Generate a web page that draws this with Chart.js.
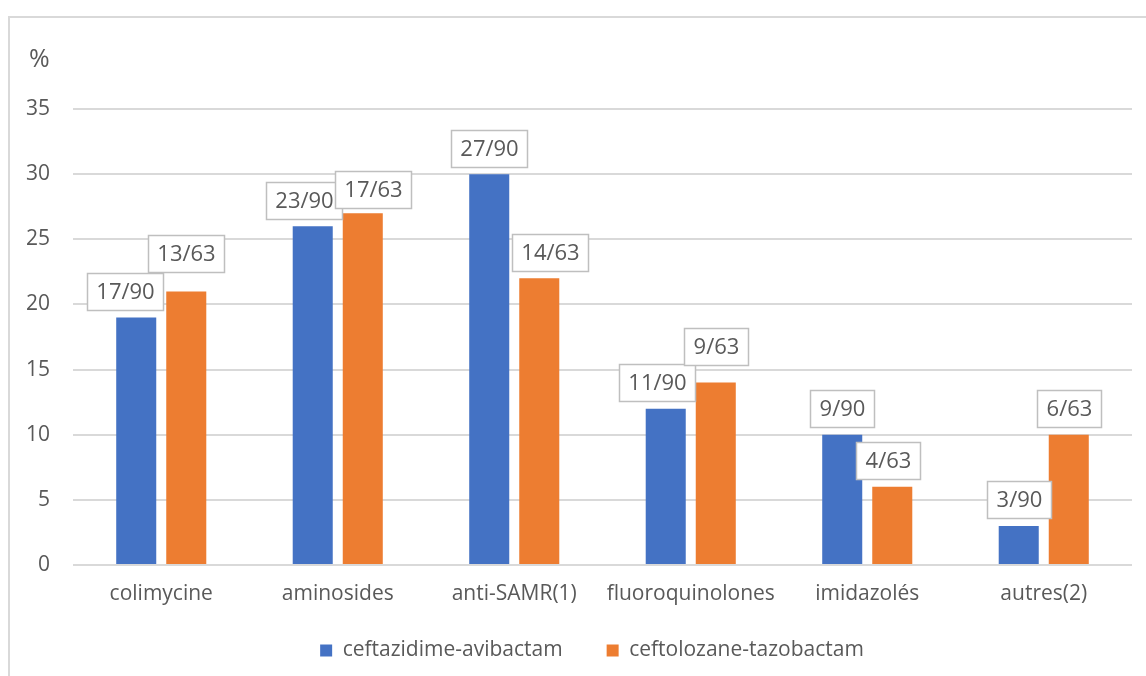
<!DOCTYPE html>
<html lang="fr">
<head>
<meta charset="utf-8">
<title>Résistances associées</title>
<script src="https://cdn.jsdelivr.net/npm/chart.js@4/dist/chart.umd.min.js"></script>
<style>
  html, body { margin: 0; padding: 0; background: #ffffff; overflow: hidden; }
  #wrap { position: relative; width: 1146px; height: 676px; overflow: hidden; }
  #frame { position: absolute; left: 8px; top: 16px; width: 1200px; height: 720px;
           border: 2px solid #d9d9d9; box-sizing: border-box; }
  canvas { position: absolute; left: 0; top: 0; }
</style>
</head>
<body>
<div id="wrap">
  <div id="frame"></div>
  <canvas id="chart" width="1146" height="676"></canvas>
</div>
<script>
// Classes d'antibiotiques
const categories = ['colimycine', 'aminosides', 'anti-SAMR(1)', 'fluoroquinolones', 'imidazolés', 'autres(2)'];

// Pourcentages par traitement
const ceftazidimeAvibactam = [19, 26, 30, 12, 10, 3];
const ceftolozaneTazobactam = [21, 27, 22, 14, 6, 10];

// Effectifs affichés au-dessus des barres
const ceftazidimeCounts = ['17/90', '23/90', '27/90', '11/90', '9/90', '3/90'];
const ceftolozaneCounts = ['13/63', '17/63', '14/63', '9/63', '4/63', '6/63'];

// Graduations de l'axe des ordonnées
const yTicks = [0, 5, 10, 15, 20, 25, 30, 35];

const FONT = "'Open Sans', 'DejaVu Sans', sans-serif";
const TEXT = '#595959';

// Boîtes d'étiquettes encadrées au-dessus des barres
const boxedLabels = {
  id: 'boxedLabels',
  afterDatasetsDraw(chart, args, opts) {
    const ctx = chart.ctx;
    ctx.save();
    ctx.font = opts.fontSize + 'px ' + FONT;
    ctx.textAlign = 'center';
    ctx.textBaseline = 'middle';
    chart.data.datasets.forEach((ds, di) => {
      const meta = chart.getDatasetMeta(di);
      meta.data.forEach((bar, i) => {
        const text = ds.counts[i];
        const nudge = (opts.nudges[di] && opts.nudges[di][i]) || [0, 0];
        const w = Math.round(ctx.measureText(text).width + opts.padX * 2);
        const h = opts.boxH;
        const cx = bar.x + nudge[0];
        const bottom = bar.y - opts.gap + nudge[1];
        const x0 = Math.round(cx - w / 2) + 0.5;
        const y0 = Math.round(bottom - h) + 0.5;
        ctx.fillStyle = '#ffffff';
        ctx.fillRect(x0, y0, w, h);
        ctx.strokeStyle = '#bfbfbf';
        ctx.lineWidth = 1.5;
        ctx.strokeRect(x0, y0, w, h);
        ctx.fillStyle = TEXT;
        ctx.fillText(text, x0 + w / 2, y0 + h / 2 + 1);
      });
    });
    ctx.restore();
  }
};

// Unité de l'axe vertical
const unitLabel = {
  id: 'unitLabel',
  afterDraw(chart) {
    const ctx = chart.ctx;
    ctx.save();
    ctx.font = '25px ' + FONT;
    ctx.fillStyle = TEXT;
    ctx.textAlign = 'left';
    ctx.textBaseline = 'middle';
    ctx.fillText('%', 29, 60);
    ctx.restore();
  }
};

// Légende : large espacement entre les entrées, bande réservée compacte
const legendBand = {
  id: 'legendBand',
  beforeLayout(chart, args, opts) {
    const lg = chart.legend;
    if (lg && !lg._bandFixed) {
      const fit = lg.fit.bind(lg);
      lg.fit = function () { fit(); this.height = opts.height; };
      lg._bandFixed = true;
    }
  },
  afterLayout(chart, args, opts) {
    const lg = chart.legend;
    if (lg) {
      lg.top += opts.shiftY;
      lg.left += opts.shiftX;
      lg.right += opts.shiftX;
    }
  }
};

new Chart(document.getElementById('chart'), {
  type: 'bar',
  data: {
    labels: categories,
    datasets: [
      { label: 'ceftazidime-avibactam', data: ceftazidimeAvibactam, counts: ceftazidimeCounts,
        backgroundColor: '#4472C4', borderWidth: 0 },
      { label: 'ceftolozane-tazobactam', data: ceftolozaneTazobactam, counts: ceftolozaneCounts,
        backgroundColor: '#ED7D31', borderWidth: 0 }
    ]
  },
  options: {
    responsive: false,
    animation: false,
    devicePixelRatio: 1,
    layout: { padding: { top: 109, right: 14, bottom: 0, left: 0 } },
    datasets: { bar: { categoryPercentage: 0.567, barPercentage: 0.8 } },
    scales: {
      x: {
        grid: { display: false, drawTicks: false },
        border: { display: false },
        ticks: { color: TEXT, font: { family: FONT, size: 21 }, padding: 16, maxRotation: 0 },
        afterFit(scale) { scale.height = 62; }
      },
      y: {
        min: 0, max: 35,
        afterBuildTicks(scale) { scale.ticks = yTicks.map(v => ({ value: v })); },
        grid: { color: '#d9d9d9', lineWidth: 2, drawTicks: false },
        border: { display: false },
        ticks: { color: TEXT, font: { family: FONT, size: 21 }, padding: 23 },
        afterFit(scale) { scale.width = 73; }
      }
    },
    plugins: {
      legend: {
        position: 'bottom',
        labels: { color: TEXT, font: { family: FONT, size: 21 }, boxWidth: 12, boxHeight: 12,
                  padding: 44, useBorderRadius: false }
      },
      legendBand: { height: 49, shiftY: -31, shiftX: 26 },
      tooltip: { enabled: false },
      boxedLabels: {
        fontSize: 22, padX: 9, boxH: 37, gap: 7.5,
        nudges: [
          [[-11, 0], [-9, 0], [0, 0], [-9, 0], [0, 0], [0, 0]],
          [[0, -12], [10, 2], [11, 0], [0, -10], [-4, 0], [0, 0]]
        ]
      }
    }
  },
  plugins: [boxedLabels, unitLabel, legendBand]
});
</script>
</body>
</html>
